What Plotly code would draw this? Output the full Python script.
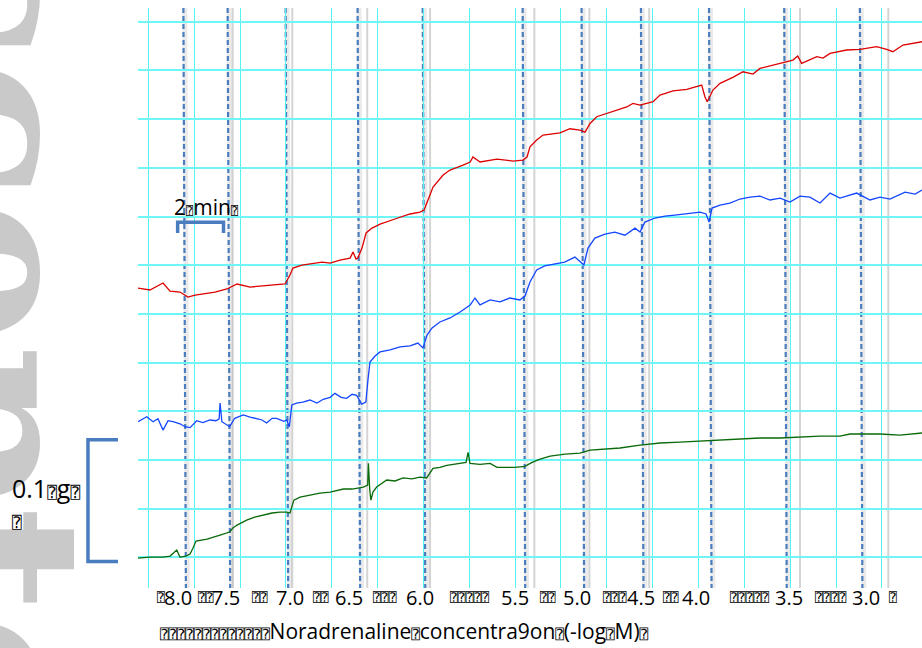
import plotly.graph_objects as go

# Isometric tension recordings (time in min, tension in mg, traces offset vertically)
red_points = [
    (-0.45, 221.3), (0.07, 219.7), (0.64, 225.4), (0.95, 218.8), (1.38, 218.0), (1.73, 213.9),
    (2.04, 215.5), (2.56, 217.3), (2.91, 218.0), (3.43, 220.5), (3.87, 224.6), (4.44, 222.1),
    (5.00, 223.0), (5.53, 223.8), (5.96, 224.6), (6.18, 232.0), (6.31, 237.7), (6.70, 240.2),
    (7.58, 242.6), (7.93, 241.8), (8.36, 244.3), (8.80, 245.9), (8.93, 250.8), (9.06, 245.1),
    (9.14, 245.9), (9.32, 254.1), (9.50, 266.5), (9.76, 270.5), (10.11, 273.8), (10.76, 278.0),
    (11.42, 282.1), (11.85, 283.7), (12.03, 285.4), (12.20, 293.6), (12.42, 304.2), (12.86, 314.1),
    (13.16, 318.2), (13.73, 322.3), (14.04, 324.8), (14.16, 328.9), (14.47, 324.8), (15.21, 327.2),
    (15.91, 325.6), (16.34, 326.4), (16.52, 328.9), (16.65, 337.3), (16.94, 342.8), (17.22, 346.9),
    (17.96, 348.8), (18.39, 352.1), (18.83, 351.0), (19.05, 349.3), (19.27, 356.5), (19.56, 362.0),
    (20.14, 365.3), (20.87, 370.0), (21.14, 373.0), (21.45, 371.6), (22.02, 374.3), (22.32, 379.8),
    (22.89, 383.3), (23.49, 384.5), (24.14, 388.0), (24.28, 378.4), (24.38, 374.3), (24.63, 383.9),
    (24.94, 389.4), (25.50, 394.3), (25.94, 398.9), (26.38, 397.0), (26.68, 401.7), (26.97, 403.0),
    (27.56, 405.8), (28.12, 408.5), (28.33, 411.8), (28.50, 405.8), (29.16, 411.3), (29.43, 410.2),
    (29.74, 414.0), (30.46, 416.8), (31.05, 417.3), (31.77, 419.5), (32.21, 417.3), (32.48, 415.4),
    (32.92, 420.9), (33.75, 423.6),
]

blue_points = [
    (-0.45, 111.5), (-0.07, 115.6), (0.21, 111.5), (0.42, 113.9), (0.64, 104.6), (0.86, 112.3),
    (1.08, 111.5), (1.38, 109.8), (1.60, 107.4), (1.82, 106.6), (2.11, 112.3), (2.38, 110.7),
    (2.69, 112.9), (2.95, 112.3), (3.09, 113.9), (3.13, 126.8), (3.21, 111.5), (3.55, 107.4),
    (3.77, 114.3), (4.14, 117.0), (4.44, 115.3), (4.73, 114.3), (4.96, 112.9), (5.16, 110.4),
    (5.40, 114.3), (5.60, 114.3), (5.91, 111.8), (6.04, 112.9), (6.15, 107.1), (6.26, 125.2),
    (6.47, 126.8), (6.74, 127.6), (7.05, 129.3), (7.36, 126.8), (7.63, 129.9), (7.93, 131.5),
    (8.14, 134.8), (8.41, 131.5), (8.65, 130.7), (8.89, 134.0), (9.09, 133.1), (9.31, 126.0),
    (9.49, 127.6), (9.58, 145.7), (9.67, 160.5), (9.89, 165.4), (10.11, 168.8), (10.55, 170.4),
    (10.98, 172.9), (11.42, 173.7), (11.76, 176.1), (11.98, 172.1), (12.16, 182.7), (12.38, 188.5),
    (12.72, 193.4), (13.16, 196.7), (13.60, 201.6), (14.04, 207.4), (14.25, 213.1), (14.47, 207.4),
    (14.91, 211.5), (15.34, 209.9), (15.77, 213.1), (16.21, 211.5), (16.43, 214.7), (16.65, 226.2),
    (16.94, 236.1), (17.29, 239.4), (17.73, 241.0), (18.16, 242.6), (18.61, 246.7), (18.83, 242.6),
    (19.00, 240.2), (19.18, 254.1), (19.48, 262.3), (19.92, 265.5), (20.35, 267.2), (20.79, 264.7),
    (21.23, 270.5), (21.45, 267.3), (21.66, 275.5), (22.10, 278.8), (22.54, 280.4), (22.97, 281.2),
    (23.63, 282.9), (24.07, 283.7), (24.33, 282.1), (24.46, 275.5), (24.59, 287.0), (24.94, 289.4),
    (25.37, 291.1), (25.81, 294.4), (26.25, 296.0), (26.68, 296.8), (27.12, 293.6), (27.56, 295.2),
    (27.99, 291.9), (28.43, 296.8), (28.86, 296.0), (29.30, 291.1), (29.74, 299.3), (30.17, 295.2),
    (30.90, 299.3), (31.48, 293.6), (31.92, 296.0), (32.35, 294.4), (33.01, 300.1), (33.45, 298.5),
    (33.75, 301.8),
]

green_points = [
    (-0.45, -0.5), (0.07, 0.3), (0.64, 0.3), (0.95, 1.1), (1.24, 6.1), (1.38, 0.3), (1.64, 1.1),
    (1.82, 2.8), (1.95, 7.7), (2.08, 13.5), (2.56, 15.1), (2.82, 16.8), (3.13, 18.4), (3.55, 20.9),
    (3.69, 24.2), (3.87, 26.6), (4.29, 30.7), (4.64, 33.2), (5.00, 34.8), (5.40, 36.5), (5.74, 37.3),
    (6.04, 37.3), (6.18, 36.5), (6.35, 47.1), (6.62, 49.6), (7.05, 51.3), (7.49, 52.9), (7.93, 53.7),
    (8.51, 56.2), (8.89, 56.2), (9.23, 57.0), (9.38, 57.8), (9.57, 59.5), (9.60, 77.3), (9.66, 55.4),
    (9.71, 47.1), (9.80, 53.7), (9.96, 57.8), (10.40, 63.6), (10.76, 62.8), (11.12, 65.3),
    (11.50, 64.5), (11.85, 66.0), (12.14, 65.3), (12.42, 73.2), (12.72, 74.0), (13.02, 75.7),
    (13.60, 77.3), (13.86, 78.1), (13.95, 86.3), (14.03, 77.3), (14.47, 76.5), (14.91, 77.3),
    (15.21, 74.0), (15.56, 74.0), (15.99, 74.0), (16.43, 74.8), (16.74, 78.1), (17.09, 80.7),
    (17.53, 83.3), (18.18, 84.9), (18.83, 85.7), (19.27, 88.2), (19.92, 89.0), (20.58, 89.9),
    (21.45, 92.3), (22.32, 94.0), (23.19, 94.8), (24.07, 95.6), (24.94, 96.4), (25.81, 97.3),
    (26.68, 98.1), (27.56, 98.1), (28.43, 98.9), (29.30, 99.7), (30.17, 99.7), (30.61, 101.4),
    (31.92, 101.4), (32.79, 100.5), (33.75, 102.2),
]

# Noradrenaline additions (min) and their -log M concentrations
addition_times = [1.53, 3.46, 5.99, 9.13, 11.97, 16.33, 18.90, 21.49, 24.46, 27.74, 31.04]
concentrations = ["8.0", "7.5", "7.0", "6.5", "6.0", "5.5", "5.0", "4.5", "4.0", "3.5", "3.0"]
label_times = [1.28, 3.39, 6.18, 8.75, 11.85, 15.99, 18.70, 21.49, 23.89, 27.95, 31.31]

# Recorder event marks (min)
event_marks = [3.68, 6.28, 9.55, 12.29, 16.84, 19.24, 21.85, 28.43, 32.28]

# Missing-glyph fillers in the concentration row: (centre time, count)
filler_times = [0.55, 2.50, 4.87, 7.53, 10.32, 14.03, 17.43, 20.36, 22.80, 26.24, 29.74, 32.50]
filler_counts = [1, 2, 2, 2, 3, 5, 2, 3, 2, 5, 4, 1]

TIME_SCALE_MIN = 2      # time scale bar (min)
FORCE_SCALE_MG = 100    # force scale bar (0.1 g)

X_RANGE = [-0.45, 33.75]
Y_RANGE = [-25.1, 451.3]

BOX = "\u2370"
TEXT_FONT = "Open Sans"
BAR_BLUE = "#4a7dbf"


def boxes(n, size):
    return ('<span style="font-family:DejaVu Sans Mono;font-size:%dpx">%s</span>'
            % (size, BOX * n))


fig = go.Figure()

for pts, color in [(red_points, "#dd0000"), (blue_points, "#1446ff"), (green_points, "#0a6a0a")]:
    fig.add_trace(go.Scatter(
        x=[p[0] for p in pts], y=[p[1] for p in pts], mode="lines",
        line=dict(color=color, width=1.3), hoverinfo="skip", showlegend=False,
    ))

shapes = []
# recorder event marks
for t in event_marks:
    shapes.append(dict(type="line", xref="x", yref="paper", x0=t, x1=t, y0=0, y1=1,
                       line=dict(color="#d4d4d4", width=2), layer="between"))
# dashed addition markers with soft shadow
drift = 0.11
for t in addition_times:
    shapes.append(dict(type="line", xref="x", yref="paper", x0=t + 0.06, x1=t + drift + 0.06,
                       y0=1, y1=0, line=dict(color="rgba(150,150,150,0.2)", width=5),
                       layer="between"))
    shapes.append(dict(type="line", xref="x", yref="paper", x0=t, x1=t + drift,
                       y0=1, y1=0, line=dict(color=BAR_BLUE, width=2.2, dash="5px,3px"),
                       layer="between"))

# 2 min scale bar
t0 = 1.28
yb_top, yb_tick = 275.4, 266.4
shapes.append(dict(type="path", xref="x", yref="y",
                   path="M %f %f L %f %f L %f %f L %f %f" % (
                       t0, yb_tick, t0, yb_top, t0 + TIME_SCALE_MIN, yb_top,
                       t0 + TIME_SCALE_MIN, yb_tick),
                   line=dict(color=BAR_BLUE, width=3.5)))

# 0.1 g scale bar (left of the traces)
fb = -3.4
xv, xa = -0.0638, -0.0255
shapes.append(dict(type="path", xref="paper", yref="y",
                   path="M %f %f L %f %f L %f %f L %f %f" % (
                       xa, fb + FORCE_SCALE_MG, xv, fb + FORCE_SCALE_MG, xv, fb, xa, fb),
                   line=dict(color=BAR_BLUE, width=3.5)))

annotations = []
# faint watermark
annotations.append(dict(text="Accepted", xref="paper", yref="paper", x=-0.004, y=0.445,
                        xanchor="right", yanchor="middle", textangle=90, showarrow=False,
                        font=dict(family="DejaVu Serif", size=230, color="#c9c9c9",
                                  weight="bold")))

for t, lab in zip(label_times, concentrations):
    annotations.append(dict(text=lab, xref="x", yref="paper", x=t, y=-0.0172,
                            xanchor="center", yanchor="middle", showarrow=False,
                            font=dict(family=TEXT_FONT, size=20, color="black")))
for t, n in zip(filler_times, filler_counts):
    annotations.append(dict(text=boxes(n, 13), xref="x", yref="paper", x=t, y=-0.0172,
                            xanchor="center", yanchor="middle", showarrow=False,
                            font=dict(family=TEXT_FONT, size=20, color="black")))

annotations.append(dict(
    text=boxes(13, 14) + "Noradrenaline" + boxes(1, 14) + "concentra9on" + boxes(1, 14)
    + "(-log" + boxes(1, 14) + "M)" + boxes(1, 14),
    xref="paper", yref="paper", x=0.0255, y=-0.074, xanchor="left", yanchor="middle",
    showarrow=False, font=dict(family=TEXT_FONT, size=21, color="black")))

annotations.append(dict(
    text="2" + boxes(1, 12) + "min" + boxes(1, 12),
    xref="x", yref="y", x=1.03, y=287.8, xanchor="left", yanchor="middle",
    showarrow=False, font=dict(family=TEXT_FONT, size=21, color="black")))

annotations.append(dict(
    text="0.1" + boxes(1, 16) + "g" + boxes(1, 16),
    xref="paper", yref="y", x=-0.1633, y=57.0, xanchor="left", yanchor="middle",
    showarrow=False, font=dict(family=TEXT_FONT, size=25, color="black")))
annotations.append(dict(
    text=boxes(1, 16), xref="paper", yref="y", x=-0.1633, y=29.1, xanchor="left",
    yanchor="middle", showarrow=False, font=dict(family=TEXT_FONT, size=25, color="black")))

fig.update_layout(
    width=922, height=648, autosize=False,
    margin=dict(l=138, r=0, t=8, b=60, pad=0),
    paper_bgcolor="white", plot_bgcolor="white",
    shapes=shapes, annotations=annotations,
    xaxis=dict(range=X_RANGE, tick0=0, dtick=2, showgrid=True, gridcolor="#55f2f2",
               gridwidth=1.2, showticklabels=False, ticks="", zeroline=False,
               showline=False, fixedrange=True),
    yaxis=dict(range=Y_RANGE, tick0=0, dtick=40, showgrid=True, gridcolor="#6ff5f5",
               gridwidth=2, showticklabels=False, ticks="", zeroline=False,
               showline=False, fixedrange=True),
)

fig.write_html("out.html")
